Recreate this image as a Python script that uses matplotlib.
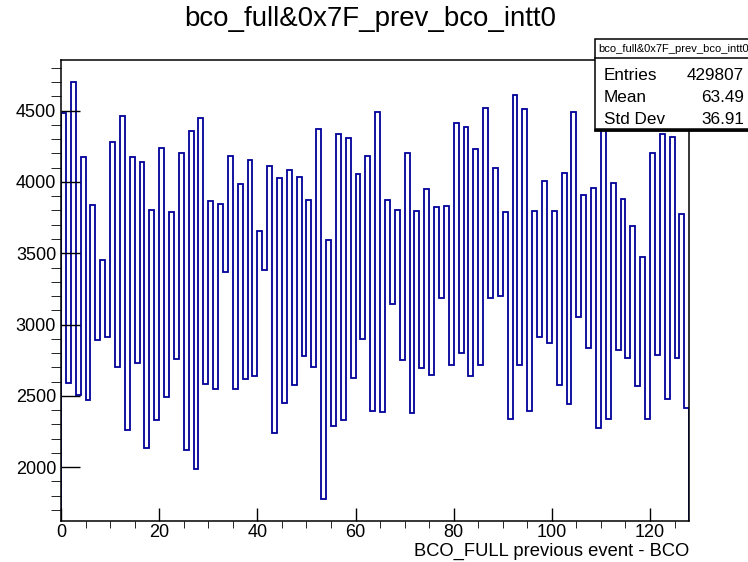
import numpy as np
import matplotlib
matplotlib.use('Agg')
import matplotlib.pyplot as plt
from matplotlib.patches import Rectangle
from matplotlib.lines import Line2D

# counts per bin of bco_full&0x7F - prev_bco, bins 0..127
counts = [
    4481, 2591, 4703, 2509, 4173, 2474, 3840, 2890, 3454, 2913,
    4283, 2700, 4463, 2264, 4173, 2731, 4138, 2136, 3800, 2334,
    4241, 2493, 3786, 2759, 4201, 2124, 4358, 1984, 4446, 2586,
    3863, 2549, 3846, 3368, 4185, 2549, 3987, 2621, 4155, 2637,
    3657, 3380, 4113, 2241, 4029, 2451, 4085, 2579, 4036, 2782,
    3874, 2703, 4369, 1774, 3592, 2287, 4339, 2334, 4306, 2626,
    4059, 2899, 4185, 2392, 4493, 2385, 3870, 3144, 3804, 2752,
    4201, 2381, 3797, 2696, 3951, 2647, 3821, 3186, 3830, 2717,
    4414, 2803, 4388, 2642, 4229, 2717, 4521, 3186, 4101, 3202,
    3788, 2341, 4612, 2715, 4512, 2392, 3793, 2913, 4010, 2871,
    3793, 2579, 4061, 2444, 4493, 3051, 3909, 2836, 3956, 2276,
    4650, 2339, 3991, 2820, 3879, 2766, 3692, 2572, 3471, 2339,
    4201, 2789, 4337, 2479, 4318, 2763, 3776, 2416,
]
bin_edges = np.arange(0, 129)

hist_title = 'bco_full&0x7F_prev_bco_intt0'
x_title = 'BCO_FULL previous event - BCO'
stat_names = ['Entries', 'Mean', 'Std Dev']
stat_values = ['429807', '63.49', '36.91']

plt.rcParams['font.family'] = ['Liberation Sans', 'DejaVu Sans']

W, H = 748, 562
fig = plt.figure(figsize=(W / 100, H / 100), dpi=100)
L, R, T, B = 61, 689.3, 60, 520.7
ax = fig.add_axes([L / W, 1 - B / H, (R - L) / W, (B - T) / H])

ax.stairs(counts, bin_edges, color='#000099', lw=1.3)
ax.set_xlim(0, 128)
ax.set_ylim(1625, 4855)

ax.set_xticks(np.arange(0, 121, 20))
ax.set_xticks(np.arange(0, 128, 5), minor=True)
ax.set_yticks(np.arange(2000, 4501, 500))
ax.set_yticks(np.arange(1700, 4855, 100), minor=True)
ax.tick_params(axis='both', direction='in', labelsize=13, width=1, colors='black')
ax.tick_params(axis='x', which='major', length=9.4, pad=2.5)
ax.tick_params(axis='x', which='minor', length=5)
ax.tick_params(axis='y', which='major', length=13.7, pad=3.5)
ax.tick_params(axis='y', which='minor', length=7.2)
ax.tick_params(top=False, right=False, which='both')
for s in ax.spines.values():
    s.set_linewidth(1.1)

fig.text(370 / W, 1 - 18.5 / H, hist_title, ha='center', va='center', fontsize=19.9)
fig.text(689 / W, 1 - 551.7 / H, x_title, ha='right', va='center', fontsize=13.2)

# stats box
bx0, bx1, by0, by1 = 595.3, 760, 39, 129.3
fig.patches.append(Rectangle((bx0 / W, 1 - by1 / H), (bx1 - bx0) / W, (by1 - by0) / H,
                             transform=fig.transFigure, facecolor='white',
                             edgecolor='black', lw=1.1, zorder=5))
fig.lines.append(Line2D([bx0 / W, 1], [1 - 58.3 / H] * 2, transform=fig.transFigure,
                        color='black', lw=1.1, zorder=6))
fig.lines.append(Line2D([bx0 / W, 1], [1 - 129.8 / H] * 2, transform=fig.transFigure,
                        color='black', lw=2, zorder=6))
fig.text(598 / W, 1 - 48.5 / H, hist_title, ha='left', va='center', fontsize=8, zorder=7)
for i, (name, val) in enumerate(zip(stat_names, stat_values)):
    yy = 1 - (75 + i * 22.5) / H
    fig.text(604 / W, yy, name, ha='left', va='center', fontsize=12.3, zorder=7)
    fig.text(744 / W, yy, val, ha='right', va='center', fontsize=12.3, zorder=7)

fig.savefig('out.png', dpi=100)
